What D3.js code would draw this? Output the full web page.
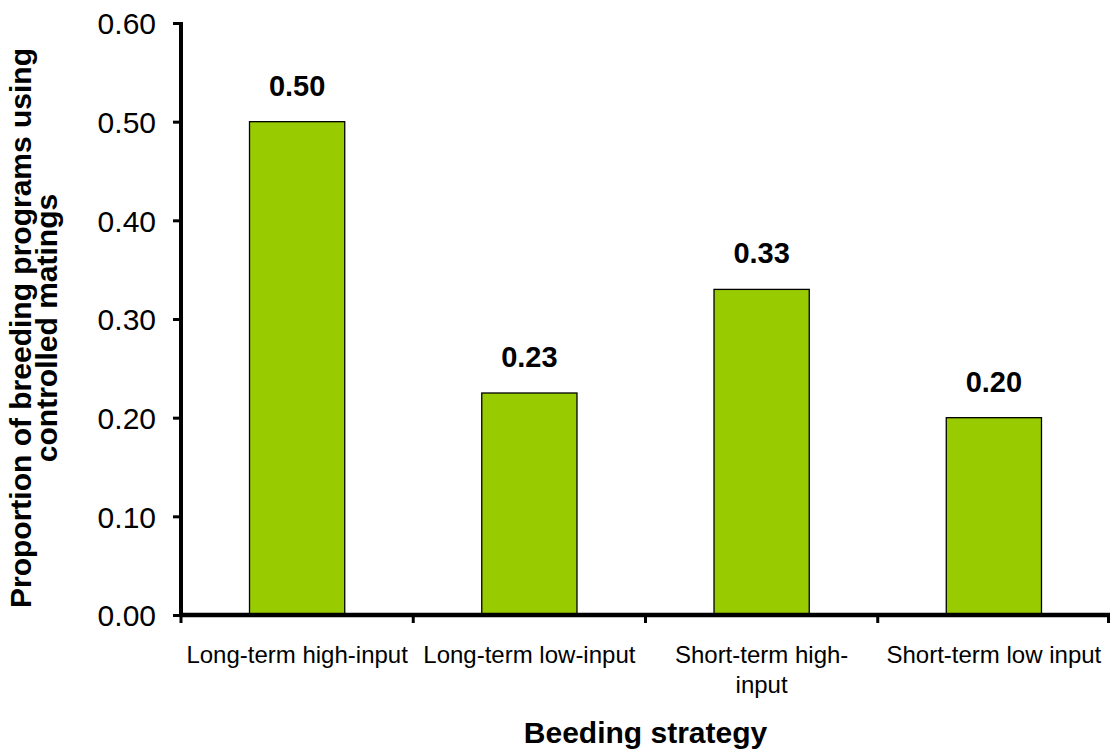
<!DOCTYPE html>
<html>
<head>
<meta charset="utf-8">
<script src="https://cdn.jsdelivr.net/npm/d3@7"></script>
<style>
  html, body { margin: 0; padding: 0; background: #fff; }
  svg { display: block; font-family: Arial, "Liberation Sans", sans-serif; }
</style>
</head>
<body>
<svg id="chart" width="1112" height="749"></svg>
<script>
// Breeding strategy categories and the proportion of programs using controlled matings
const categories = ["Long-term high-input", "Long-term low-input", "Short-term high-input", "Short-term low input"];
const proportions = [0.50, 0.225, 0.33, 0.20];
const yTicks = [0, 0.1, 0.2, 0.3, 0.4, 0.5, 0.6];
const yTitleLines = ["Proportion of breeding programs using", "controlled matings"];
const xTitle = "Beeding strategy";

const svg = d3.select("#chart");
const margin = { left: 181, right: 2, top: 23, bottom: 134 };
const W = 1112, H = 749;
const FONT = "Arial, 'Liberation Sans', sans-serif";

const x = d3.scaleBand()
  .domain(categories)
  .range([margin.left, W - margin.right])
  .paddingInner(0.59)
  .paddingOuter(0.295);

const y = d3.scaleLinear()
  .domain([0, 0.6])
  .range([H - margin.bottom, margin.top]);

const fmt = d3.format(".2f");

// Bars
svg.append("g").selectAll("rect")
  .data(categories)
  .join("rect")
  .attr("x", d => x(d))
  .attr("y", (d, i) => y(proportions[i]))
  .attr("width", x.bandwidth())
  .attr("height", (d, i) => y(0) - y(proportions[i]))
  .attr("fill", "#99CC00")
  .attr("stroke", "#000")
  .attr("stroke-width", 1.3);

// Value labels above the bars
svg.append("g").selectAll("text")
  .data(categories)
  .join("text")
  .attr("x", d => x(d) + x.bandwidth() / 2)
  .attr("y", (d, i) => y(proportions[i]) - 26)
  .attr("text-anchor", "middle")
  .attr("font-weight", "bold")
  .attr("font-size", 29)
  .text((d, i) => fmt(proportions[i]));

// Y axis
const yAxis = svg.append("g")
  .attr("transform", `translate(${margin.left},0)`)
  .call(d3.axisLeft(y).tickValues(yTicks).tickFormat(fmt).tickSize(8).tickPadding(17));
yAxis.select(".domain").attr("stroke-width", 4).attr("d", `M0,${y(0.6) - 1}V${y(0) + 2}`);
yAxis.selectAll(".tick line").attr("stroke-width", 3);
yAxis.selectAll(".tick text")
  .attr("font-size", 30)
  .attr("fill", "#000")
  .attr("font-family", FONT)
  .attr("dy", "0.36em");

// X axis with ticks on the band boundaries
const bounds = categories.map(d => x(d) - x.step() * x.paddingInner() / 2);
bounds.push(W - margin.right);
const xAxisG = svg.append("g");
xAxisG.append("line")
  .attr("x1", margin.left - 2).attr("x2", W - margin.right)
  .attr("y1", y(0)).attr("y2", y(0))
  .attr("stroke", "#000").attr("stroke-width", 4.5);
xAxisG.selectAll("line.tk")
  .data(bounds)
  .join("line")
  .attr("class", "tk")
  .attr("x1", d => Math.min(d, W - margin.right - 1.5)).attr("x2", d => Math.min(d, W - margin.right - 1.5))
  .attr("y1", y(0)).attr("y2", y(0) + 8)
  .attr("stroke", "#000").attr("stroke-width", 3);

// Category labels, wrapped to the band width
const CAT_SIZE = 24;
const measure = svg.append("text").attr("font-size", CAT_SIZE).attr("visibility", "hidden");
function wrapLines(label, maxW) {
  const tokens = label.match(/[^\s-]+-?/g);
  const lines = [];
  let cur = "";
  tokens.forEach(tok => {
    const sep = cur && !cur.endsWith("-") ? " " : "";
    const trial = cur + sep + tok;
    measure.text(trial);
    if (cur && measure.node().getComputedTextLength() > maxW) {
      lines.push(cur);
      cur = tok;
    } else {
      cur = trial;
    }
  });
  if (cur) lines.push(cur);
  return lines;
}
const labelG = svg.append("g");
categories.forEach(c => {
  const cx = x(c) + x.bandwidth() / 2;
  const lines = wrapLines(c, x.step() - 10);
  const t = labelG.append("text")
    .attr("x", cx)
    .attr("y", y(0) + 48)
    .attr("text-anchor", "middle")
    .attr("font-size", CAT_SIZE);
  lines.forEach((ln, i) => {
    t.append("tspan").attr("x", cx).attr("dy", i ? 30 : 0).text(ln);
  });
});
measure.remove();

// Axis titles
svg.append("text")
  .attr("x", (margin.left + W - margin.right) / 2)
  .attr("y", 743)
  .attr("text-anchor", "middle")
  .attr("font-weight", "bold")
  .attr("font-size", 30)
  .text(xTitle);

const yTitle = svg.append("text")
  .attr("transform", `translate(31,328) rotate(-90)`)
  .attr("text-anchor", "middle")
  .attr("font-weight", "bold")
  .attr("font-size", 30);
yTitleLines.forEach((ln, i) => {
  yTitle.append("tspan").attr("x", 0).attr("dy", i ? 26 : 0).text(ln);
});
</script>
</body>
</html>
